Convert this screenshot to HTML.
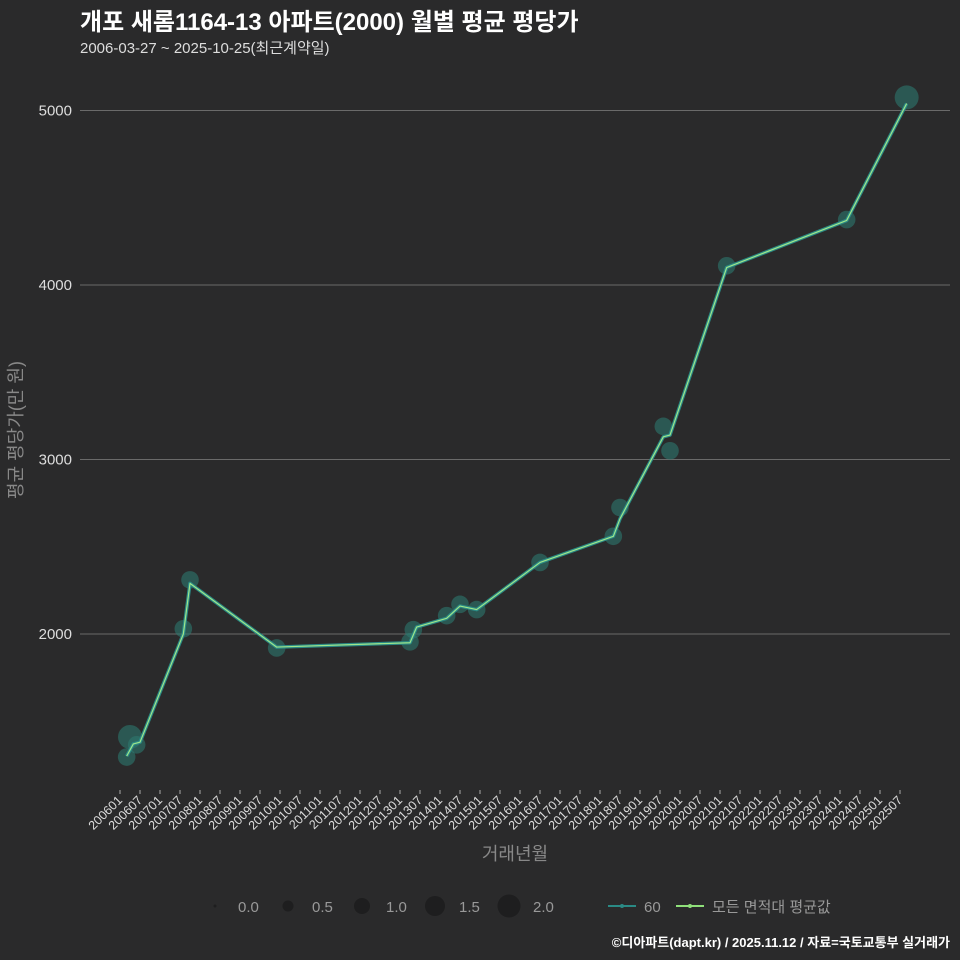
<!DOCTYPE html>
<html><head><meta charset="utf-8"><style>
body{margin:0;background:#2a2a2b;}
svg{display:block;font-family:"Liberation Sans","Noto Sans CJK KR",sans-serif;}
</style></head><body>
<svg id="c" width="960" height="960" xmlns="http://www.w3.org/2000/svg">
<rect width="960" height="960" fill="#2a2a2b"/>
<text x="80" y="30" fill="#fff" font-size="24" font-weight="bold">개포 새롬1164-13 아파트(2000) 월별 평균 평당가</text>
<text x="80" y="53" fill="#ddd" font-size="15">2006-03-27 ~ 2025-10-25(최근계약일)</text>
<g id="grid"></g><g id="xt"></g><g id="marks"></g>
<text transform="translate(22,430) rotate(-90)" text-anchor="middle" fill="#888" font-size="18">평균 평당가(만 원)</text>
<text x="515" y="860" text-anchor="middle" fill="#888" font-size="18">거래년월</text>
<g font-size="15" fill="#999">
<circle cx="215" cy="906" r="1.5" fill="#1e1e1f"/><text x="238" y="912">0.0</text>
<circle cx="288" cy="906" r="5.5" fill="#1e1e1f"/><text x="312" y="912">0.5</text>
<circle cx="362" cy="906" r="8" fill="#1e1e1f"/><text x="386" y="912">1.0</text>
<circle cx="435" cy="906" r="10" fill="#1e1e1f"/><text x="459" y="912">1.5</text>
<circle cx="509" cy="906" r="11.5" fill="#1e1e1f"/><text x="533" y="912">2.0</text>
<line x1="608" y1="906" x2="636" y2="906" stroke="#2a8a85" stroke-width="2"/><circle cx="622" cy="906" r="2" fill="#2a8a85"/><text x="644" y="912">60</text>
<line x1="676" y1="906" x2="704" y2="906" stroke="#8fe07a" stroke-width="2"/><circle cx="690" cy="906" r="2" fill="#8fe07a"/><text x="712" y="912">모든 면적대 평균값</text>
</g>
<text x="950" y="947" text-anchor="end" fill="#fff" font-size="13" font-weight="bold">©디아파트(dapt.kr) / 2025.11.12 / 자료=국토교통부 실거래가</text>
</svg>
<script>
const yTicks=[2000,3000,4000,5000];
const ptMonths=["2006-03","2006-04","2006-06","2007-08","2007-10","2009-12","2013-04","2013-05","2014-03","2014-07","2014-12","2016-07","2018-05","2018-07","2019-08","2019-10","2021-03","2024-03","2025-09"];
const ptValues=[1295,1410,1365,2030,2310,1920,1955,2025,2105,2170,2140,2410,2560,2725,3190,3050,4110,4375,5075];
const ptSizes=[1.2,2.0,1.2,1.2,1.2,1.2,1.2,1.2,1.2,1.2,1.2,1.2,1.2,1.2,1.2,1.2,1.2,1.2,2.0];
const lineMonths=["2006-03","2006-05","2006-07","2007-08","2007-10","2009-12","2013-04","2013-06","2014-03","2014-07","2014-12","2016-07","2018-05","2018-07","2019-08","2019-10","2021-03","2024-03","2025-09"];
const lineValues=[1300,1370,1380,2000,2290,1925,1950,2040,2090,2160,2140,2410,2560,2660,3130,3140,4100,4370,5040];
const NS="http://www.w3.org/2000/svg";
function mIdx(s){const [y,m]=s.split("-").map(Number);return (y-2006)*12+(m-1);}
function X(s){return 120+mIdx(s)*20/6;}
function Y(v){return 634-(v-2000)*0.1745;}
function el(t,a,p){const e=document.createElementNS(NS,t);for(const k in a)e.setAttribute(k,a[k]);p.appendChild(e);return e;}
const grid=document.getElementById("grid"),xt=document.getElementById("xt"),marks=document.getElementById("marks");
yTicks.forEach(v=>{
 const l=el("line",{x1:80,x2:950,y1:Y(v),y2:Y(v),stroke:"#6a6a6a","stroke-width":1},grid);
 
 
 const t=el("text",{x:72,y:Y(v)+5,"text-anchor":"end",fill:"#ddd","font-size":15},grid);
 t.textContent=v;
 
 
});
for(let i=0;i<40;i++){
 const y=2006+Math.floor(i/2),m=i%2?"07":"01";const lab=y+m;const x=120+i*20;
 const tk=el("line",{x1:x,x2:x,y1:790,y2:794,stroke:"#aaa"},xt);
 
 
 const t=el("text",{transform:`translate(${x+3},${801}) rotate(-45)`,"text-anchor":"end",fill:"#ddd","font-size":12.5},xt);
 t.textContent=lab;
 
 
}
ptMonths.forEach((s,i)=>{
 const c=el("circle",{cx:X(s),cy:Y(ptValues[i]),r:4+ptSizes[i]*4,fill:"rgba(45,120,110,0.6)"},marks);
 
 
});
const d="M"+lineMonths.map((s,i)=>X(s)+","+Y(lineValues[i])).join(" L");
const l1=el("path",{d:d,fill:"none",stroke:"#2a8a85","stroke-width":3.5,"stroke-linejoin":"round"},marks);


const l2=el("path",{d:d,fill:"none",stroke:"#9fe58a","stroke-width":1.2,"stroke-linejoin":"round"},marks);


</script>
</body></html>
